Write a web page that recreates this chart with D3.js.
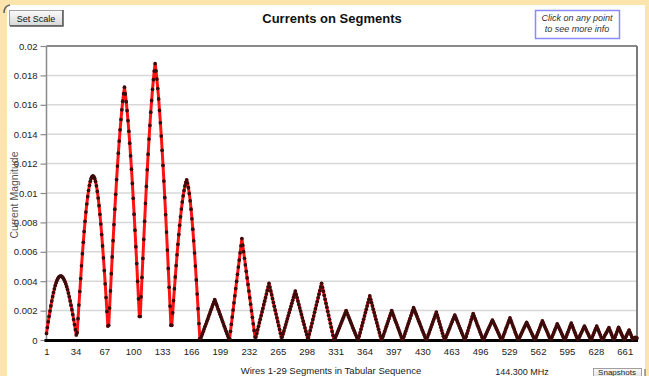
<!DOCTYPE html>
<html>
<head>
<meta charset="utf-8">
<script src="https://cdn.jsdelivr.net/npm/d3@7"></script>
<style>
  html, body { margin: 0; padding: 0; background: #fce4ad; }
  svg { display: block; font-family: Arial, "Liberation Sans", sans-serif; }
</style>
</head>
<body>
<svg id="chart" width="649" height="376"></svg>
<script>
// Current magnitude (A) on every segment, one array per wire (wires 1-29).
const wire01 = [0.00045,0.00085,0.00124,0.00161,0.00197,0.00232,0.00265,0.00295,0.00323,0.00348,0.00371,0.0039,0.00406,0.00419,0.00428,0.00433,0.00435,0.00434,0.00429,0.00422,0.00411,0.00398,0.00382,0.00364,0.00343,0.00319,0.00294,0.00266,0.00237,0.00206,0.00173,0.0014,0.00105,0.0007,0.00034];
const wire02 = [0.0005,0.00145,0.00238,0.0033,0.00418,0.00505,0.00587,0.00665,0.00738,0.00807,0.0087,0.00925,0.00975,0.01017,0.01052,0.0108,0.011,0.01112,0.01116,0.01112,0.01099,0.01078,0.01049,0.01011,0.00966,0.00914,0.00855,0.00789,0.00717,0.0064,0.00558,0.00472,0.00382,0.00289,0.00194,0.00095];
const wire03 = [0.001,0.00217,0.00334,0.00451,0.00565,0.00676,0.00785,0.0089,0.00991,0.01091,0.01183,0.01271,0.01353,0.0143,0.015,0.01566,0.01625,0.01676,0.0172,0.01674,0.01621,0.01561,0.01493,0.0142,0.01339,0.01253,0.01162,0.01065,0.00964,0.00856,0.00747,0.00635,0.0052,0.00399,0.0028,0.0016];
const wire04 = [0.0016,0.00294,0.00426,0.00555,0.00684,0.00807,0.00929,0.01045,0.01158,0.01264,0.01367,0.0146,0.0155,0.0163,0.01705,0.01771,0.0183,0.0188,0.01831,0.01775,0.01711,0.0164,0.01562,0.01478,0.01387,0.0129,0.01188,0.01081,0.00969,0.00853,0.00734,0.00612,0.00487,0.00359,0.00231,0.00101];
const wire05 = [0.001,0.00185,0.00268,0.00349,0.00429,0.00506,0.0058,0.00651,0.00717,0.0078,0.00838,0.00891,0.00939,0.00981,0.01017,0.01048,0.01072,0.0109,0.01068,0.01036,0.00996,0.00947,0.0089,0.00825,0.00754,0.00675,0.00592,0.00503,0.00409,0.00313,0.00213,0.00112,0.0001];
const wire06 = [0.0001,0.00027,0.00043,0.0006,0.00076,0.00093,0.00109,0.00126,0.00142,0.00159,0.00176,0.00192,0.00209,0.00225,0.00242,0.00258,0.00275,0.00259,0.00243,0.00226,0.00209,0.00193,0.00176,0.00159,0.00143,0.00126,0.00109,0.00093,0.00076,0.0006,0.00043,0.00027,0.0001];
const wire07 = [0.0001,0.00059,0.00107,0.00156,0.00204,0.00253,0.00301,0.0035,0.00399,0.00447,0.00496,0.00544,0.00593,0.00641,0.0069,0.00645,0.00601,0.00556,0.00511,0.00467,0.00422,0.00378,0.00333,0.00288,0.00244,0.00199,0.00154,0.0011,0.00065,0.0002];
const wire08 = [0.0002,0.00044,0.00069,0.00093,0.00118,0.00142,0.00166,0.00191,0.00215,0.0024,0.00264,0.00288,0.00313,0.00337,0.00362,0.00386,0.0036,0.00334,0.00308,0.00282,0.00255,0.00229,0.00203,0.00177,0.00151,0.00125,0.00098,0.00072,0.00046,0.0002];
const wire09 = [0.0002,0.00041,0.00062,0.00083,0.00103,0.00124,0.00145,0.00166,0.00187,0.00208,0.00229,0.0025,0.0027,0.00291,0.00312,0.00333,0.0031,0.00288,0.00265,0.00242,0.00219,0.00197,0.00174,0.00151,0.00128,0.00106,0.00083,0.0006,0.00038,0.00015];
const wire10 = [0.00015,0.0004,0.00064,0.00089,0.00114,0.00139,0.00163,0.00188,0.00213,0.00238,0.00262,0.00287,0.00312,0.00336,0.00361,0.00386,0.00359,0.00332,0.00304,0.00277,0.0025,0.00223,0.00195,0.00168,0.00141,0.00114,0.00087,0.00059,0.00032,0.00005];
const wire11 = [0.00005,0.0002,0.00035,0.0005,0.00065,0.0008,0.00095,0.0011,0.00125,0.0014,0.00155,0.0017,0.00185,0.002,0.00185,0.0017,0.00155,0.0014,0.00125,0.0011,0.00095,0.0008,0.00065,0.0005,0.00035,0.0002,0.00005];
const wire12 = [0.00005,0.00028,0.0005,0.00073,0.00096,0.00118,0.00141,0.00164,0.00187,0.00209,0.00232,0.00255,0.00277,0.003,0.00277,0.00255,0.00232,0.00209,0.00187,0.00164,0.00141,0.00118,0.00096,0.00073,0.0005,0.00028,0.00005];
const wire13 = [0.00005,0.00023,0.0004,0.00058,0.00076,0.00094,0.00111,0.00129,0.00147,0.00165,0.00182,0.002,0.00184,0.00168,0.00151,0.00135,0.00119,0.00103,0.00086,0.0007,0.00054,0.00038,0.00021,0.00005];
const wire14 = [0.00005,0.00023,0.00041,0.00059,0.00077,0.00095,0.00113,0.0013,0.00148,0.00166,0.00184,0.00202,0.0022,0.00205,0.00189,0.00174,0.00159,0.00143,0.00128,0.00113,0.00097,0.00082,0.00066,0.00051,0.00036,0.0002,0.00005];
const wire15 = [0.00005,0.00022,0.00039,0.00055,0.00072,0.00089,0.00106,0.00123,0.0014,0.00156,0.00173,0.0019,0.00169,0.00149,0.00128,0.00108,0.00087,0.00067,0.00046,0.00026,0.00005];
const wire16 = [0.00005,0.0002,0.00035,0.0005,0.00065,0.0008,0.00095,0.0011,0.00125,0.0014,0.00155,0.0017,0.00155,0.0014,0.00125,0.0011,0.00095,0.0008,0.00065,0.0005,0.00035,0.0002,0.00005];
const wire17 = [0.00005,0.00024,0.00044,0.00063,0.00083,0.00102,0.00122,0.00141,0.00161,0.0018,0.00164,0.00148,0.00132,0.00116,0.001,0.00085,0.00069,0.00053,0.00037,0.00021,0.00005];
const wire18 = [0.00005,0.00018,0.00031,0.00044,0.00057,0.00071,0.00084,0.00097,0.0011,0.00123,0.00136,0.00123,0.0011,0.00097,0.00084,0.00071,0.00057,0.00044,0.00031,0.00018,0.00005];
const wire19 = [0.00005,0.00021,0.00037,0.00053,0.0007,0.00086,0.00102,0.00118,0.00134,0.0015,0.00134,0.00118,0.00102,0.00086,0.0007,0.00053,0.00037,0.00021,0.00005];
const wire20 = [0.00005,0.00018,0.00031,0.00043,0.00056,0.00069,0.00082,0.00094,0.00107,0.0012,0.00107,0.00094,0.00082,0.00069,0.00056,0.00043,0.00031,0.00018,0.00005];
const wire21 = [0.00005,0.00021,0.00036,0.00052,0.00068,0.00083,0.00099,0.00114,0.0013,0.00116,0.00102,0.00088,0.00074,0.00061,0.00047,0.00033,0.00019,0.00005];
const wire22 = [0.00005,0.0002,0.00035,0.0005,0.00065,0.0008,0.00095,0.0011,0.00097,0.00084,0.00071,0.00058,0.00044,0.00031,0.00018,0.00005];
const wire23 = [0.00005,0.00021,0.00036,0.00052,0.00068,0.00084,0.00099,0.00115,0.00099,0.00084,0.00068,0.00052,0.00036,0.00021,0.00005];
const wire24 = [0.00005,0.00018,0.00031,0.00044,0.00056,0.00069,0.00082,0.00095,0.00082,0.00069,0.00056,0.00044,0.00031,0.00018,0.00005];
const wire25 = [0.00005,0.0002,0.00035,0.0005,0.00065,0.0008,0.00095,0.0008,0.00065,0.0005,0.00035,0.0002,0.00005];
const wire26 = [0.00005,0.00016,0.00028,0.00039,0.0005,0.00061,0.00073,0.00084,0.00068,0.00053,0.00037,0.00021,0.00005];
const wire27 = [0.00005,0.00021,0.00037,0.00054,0.0007,0.00086,0.00073,0.00059,0.00046,0.00032,0.00019,0.00005];
const wire28 = [0.00005,0.00018,0.0003,0.00043,0.00055,0.00068,0.00052,0.00037,0.00021,0.00005];
const wire29 = [0.0001,0.00015,0.00018,0.00015,0.00013];

const wires = [wire01, wire02, wire03, wire04, wire05, wire06, wire07, wire08, wire09, wire10,
               wire11, wire12, wire13, wire14, wire15, wire16, wire17, wire18, wire19, wire20,
               wire21, wire22, wire23, wire24, wire25, wire26, wire27, wire28, wire29];

// Axis tick labels
const xTickLabels = [1, 34, 67, 100, 133, 166, 199, 232, 265, 298, 331, 364, 397, 430, 463, 496, 529, 562, 595, 628, 661];
const yTickValues = [0, 0.002, 0.004, 0.006, 0.008, 0.01, 0.012, 0.014, 0.016, 0.018, 0.02];

// Segments numbered in tabular sequence across all wires
const points = [];
let segNo = 1;
wires.forEach((w, wi) => w.forEach(v => points.push({ seg: segNo++, wire: wi + 1, value: v })));

const W = 649, H = 376;
const plot = { left: 46.5, right: 637, top: 46, bottom: 340 };
const FONT = 'Arial, "Liberation Sans", sans-serif';

const svg = d3.select('#chart');
const defs = svg.append('defs');
const grad = defs.append('linearGradient').attr('id', 'btnFill').attr('x1', 0).attr('y1', 0).attr('x2', 0).attr('y2', 1);
grad.append('stop').attr('offset', '0%').attr('stop-color', '#fbfbfb');
grad.append('stop').attr('offset', '100%').attr('stop-color', '#d9d9d9');

// Window frame and white panel
svg.append('rect').attr('width', W).attr('height', H).attr('fill', '#fce4ad');
svg.append('rect').attr('x', 7).attr('y', 5).attr('width', 638).attr('height', H - 5).attr('fill', '#ffffff');
svg.append('path').attr('d', 'M4,13 Q4,6 10,5').attr('fill', 'none').attr('stroke', '#666').attr('stroke-width', 1.5);

const x = d3.scaleLinear().domain([1, points.length]).range([plot.left, plot.right]);
const y = d3.scaleLinear().domain([0, 0.02]).range([plot.bottom, plot.top]);

// Horizontal grid
svg.append('g').selectAll('line')
  .data(yTickValues.filter(v => v > 0 && v < 0.02))
  .join('line')
  .attr('x1', plot.left).attr('x2', plot.right)
  .attr('y1', d => y(d)).attr('y2', d => y(d))
  .attr('stroke', '#d8d8d8').attr('stroke-width', 1.5);

// Plot frame
svg.append('line').attr('x1', plot.left).attr('x2', plot.right).attr('y1', plot.top).attr('y2', plot.top)
  .attr('stroke', '#8a8a8a').attr('stroke-width', 2);
svg.append('line').attr('x1', plot.right).attr('x2', plot.right).attr('y1', plot.top).attr('y2', plot.bottom + 1)
  .attr('stroke', '#7a7a7a').attr('stroke-width', 2);
svg.append('line').attr('x1', plot.left).attr('x2', plot.left).attr('y1', plot.top).attr('y2', plot.bottom + 1)
  .attr('stroke', '#8a8a8a').attr('stroke-width', 1.5);

// Y axis
const yAxis = svg.append('g').attr('transform', `translate(${plot.left},0)`)
  .call(d3.axisLeft(y).tickValues(yTickValues).tickSize(6).tickPadding(3).tickFormat(d => String(d)));
yAxis.select('.domain').remove();
yAxis.selectAll('.tick line').attr('stroke', '#8a8a8a').attr('stroke-width', 1.2);
yAxis.selectAll('.tick text').attr('font-size', '9.5px').attr('fill', '#222').attr('font-family', FONT);

// X axis labels
const xAxis = svg.append('g').attr('transform', `translate(0,${plot.bottom})`)
  .call(d3.axisBottom(x).tickValues(xTickLabels).tickSize(0).tickPadding(8).tickFormat(d => String(d)));
xAxis.select('.domain').remove();
xAxis.selectAll('.tick text').attr('font-size', '9.5px').attr('fill', '#222').attr('font-family', FONT);

// Heavy baseline
svg.append('line').attr('x1', plot.left - 2).attr('x2', plot.right + 1).attr('y1', plot.bottom + 0.5).attr('y2', plot.bottom + 0.5)
  .attr('stroke', '#000').attr('stroke-width', 3);

// Current curve and segment markers
const line = d3.line().x(d => x(d.seg)).y(d => y(d.value));
svg.append('path').datum(points).attr('d', line)
  .attr('fill', 'none').attr('stroke', '#ff1212').attr('stroke-width', 3).attr('stroke-linejoin', 'round');
svg.append('g').selectAll('circle').data(points).join('circle')
  .attr('cx', d => x(d.seg)).attr('cy', d => y(d.value)).attr('r', 1.85)
  .attr('fill', '#3a0c0c');

// Title
svg.append('text').attr('x', 332).attr('y', 23).attr('text-anchor', 'middle')
  .attr('font-size', '13px').attr('font-weight', 'bold').attr('fill', '#111').text('Currents on Segments');

// Axis titles
svg.append('text').attr('transform', 'translate(14,195) rotate(-90)').attr('text-anchor', 'middle')
  .attr('dominant-baseline', 'central').attr('font-size', '10.5px').attr('fill', '#555').text('Current Magnitude');
svg.append('text').attr('x', 331).attr('y', 374).attr('text-anchor', 'middle')
  .attr('font-size', '9.5px').attr('fill', '#222').text('Wires 1-29 Segments in Tabular Sequence');
svg.append('text').attr('x', 522).attr('y', 374.5).attr('text-anchor', 'middle')
  .attr('font-size', '9px').attr('fill', '#222').text('144.300 MHz');

// "Set Scale" button
svg.append('rect').attr('x', 9.5).attr('y', 10.5).attr('width', 53).attr('height', 15)
  .attr('fill', 'url(#btnFill)').attr('stroke', '#a0a0a0');
svg.append('path').attr('d', 'M10,26 H63 V10').attr('fill', 'none').attr('stroke', '#555').attr('stroke-width', 1.5);
svg.append('text').attr('x', 36).attr('y', 21.5).attr('text-anchor', 'middle')
  .attr('font-size', '9px').attr('fill', '#111').text('Set Scale');

// Hint box
svg.append('rect').attr('x', 535.5).attr('y', 10.5).attr('width', 84).attr('height', 28)
  .attr('fill', '#fff').attr('stroke', '#8a8aff').attr('stroke-width', 1.5);
svg.append('text').attr('x', 577).attr('y', 20.5).attr('text-anchor', 'middle')
  .attr('font-size', '9px').attr('font-style', 'italic').attr('fill', '#333').text('Click on any point');
svg.append('text').attr('x', 577).attr('y', 32).attr('text-anchor', 'middle')
  .attr('font-size', '9px').attr('font-style', 'italic').attr('fill', '#333').text('to see more info');

// "Snapshots" button
svg.append('rect').attr('x', 593.5).attr('y', 368.5).attr('width', 48).attr('height', 12)
  .attr('fill', 'url(#btnFill)').attr('stroke', '#a0a0a0');
svg.append('text').attr('x', 617).attr('y', 375).attr('text-anchor', 'middle')
  .attr('font-size', '8px').attr('fill', '#222').text('Snapshots');
svg.append('line').attr('x1', 645).attr('x2', 645).attr('y1', 369).attr('y2', 376).attr('stroke', '#555');
</script>
</body>
</html>
